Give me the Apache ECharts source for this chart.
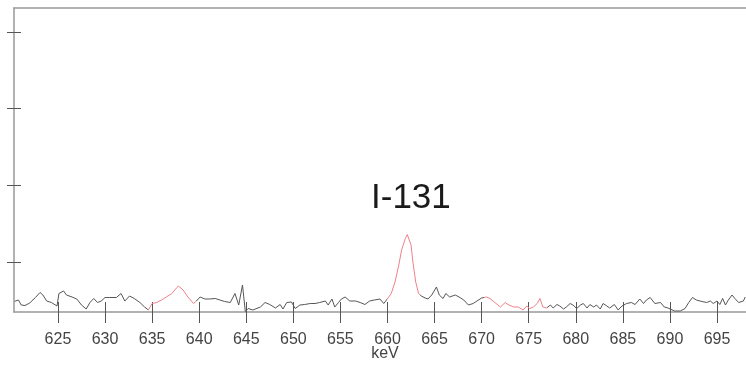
<!DOCTYPE html>
<html>
<head>
<meta charset="utf-8">
<script src="https://cdn.jsdelivr.net/npm/echarts@6/dist/echarts.min.js"></script>
<style>
  html, body { margin: 0; padding: 0; background: #fff; }
  #chart { width: 746px; height: 367px; }
</style>
</head>
<body>
<div id="chart"></div>
<script>
// spectrum readings (keV, counts above baseline)
var energy = [
  620.4, 620.8, 621.1, 621.5, 622.0, 622.6, 623.1, 623.4, 623.8, 624.3,
  624.9, 625.1, 625.6, 625.9, 626.5, 627.0, 627.5, 628.0, 628.4, 628.8,
  629.2, 629.6, 630.0, 630.5, 631.2, 631.7, 632.1, 632.6, 633.1, 633.7,
  634.2, 634.6, 635.0, 635.5, 636.0, 636.5, 637.1, 637.4, 637.8, 638.3,
  638.8, 639.4, 639.7, 640.1, 640.6, 641.1, 641.7, 642.2, 642.7, 643.3,
  643.8, 644.2, 644.6, 644.9, 645.2, 645.7, 645.9, 646.5, 647.0, 647.5,
  648.1, 648.6, 648.9, 649.3, 649.8, 650.2, 650.7, 651.2, 651.8, 652.3,
  652.8, 653.4, 653.7, 654.1, 654.4, 654.8, 655.1, 655.5, 656.0, 656.6,
  657.1, 657.6, 658.1, 658.6, 659.2, 659.6, 659.9, 660.4, 660.8, 661.2,
  661.5, 661.9, 662.1, 662.5, 662.7, 663.0, 663.3, 663.6, 664.0, 664.3,
  664.7, 665.2, 665.5, 665.9, 666.2, 666.6, 667.2, 667.6, 668.1, 668.6,
  669.1, 669.5, 670.0, 670.5, 670.9, 671.4, 672.0, 672.5, 672.8, 673.4,
  673.9, 674.4, 674.8, 675.1, 675.5, 675.9, 676.2, 676.5, 676.9, 677.3,
  677.6, 678.0, 678.3, 678.7, 679.0, 679.4, 679.7, 680.1, 680.5, 680.8,
  681.2, 681.5, 681.9, 682.2, 682.6, 682.9, 683.3, 683.6, 684.1, 684.5,
  684.9, 685.4, 685.9, 686.3, 686.8, 687.2, 687.5, 687.9, 688.4, 689.0,
  689.4, 689.8, 690.0, 690.5, 691.1, 691.6, 692.0, 692.4, 692.8, 693.4,
  693.9, 694.3, 694.6, 695.0, 695.3, 695.6, 695.9, 696.2, 696.6, 696.9,
  697.3, 697.8, 698.0
];
var counts = [
  10.7, 12, 7, 6.5, 9, 14.5, 19.5, 17, 11, 9.5,
  6, 18.5, 21, 17, 15, 13, 7, 3, 9.5, 13.5,
  9.5, 11, 14.5, 14.5, 14.5, 18.5, 11, 16, 13.5, 9.5,
  5, 2, 8.5, 9.5, 12, 15, 18.5, 22, 26, 22,
  15, 8.5, 11, 15, 13, 13, 13.5, 12, 10.5, 9.5,
  18.5, 7, 27, 0.5, 3.5, 2, 1, 5, 9.5, 7.5,
  4, 7.5, 3, 9.5, 10, 3.5, 7, 7.5, 8.5, 8.5,
  9.5, 11, 7, 13, 5, 9.5, 13, 15, 11, 11,
  9.5, 7.5, 11, 12, 13, 8.5, 12, 18.5, 30, 47,
  62, 73.5, 77.5, 67, 50, 30, 18.5, 16, 14, 13,
  17, 25, 17, 13.5, 18.5, 15, 17, 15, 12, 7,
  8.5, 11, 14, 15, 13.5, 9.5, 5, 9.5, 7.5, 5,
  5, 2, 6, 3.5, 5, 8.5, 13.5, 5, 4, 7,
  4, 7.5, 6, 3, 5, 8.5, 7, 3.5, 7, 8.5,
  4, 7.5, 5, 7, 3, 8.5, 6, 4, 7.5, 2,
  6, 8.5, 9.5, 7.5, 13, 8.5, 12, 14.5, 8.5, 9.5,
  5, 4, 2, 1, 1, 3.5, 9.5, 14.5, 12, 10.5,
  9.5, 11, 8.5, 11, 7.5, 13.5, 7, 12, 17, 13.5,
  9.5, 11, 15
];
// regions of interest drawn in red
var roiRanges = [[634.6, 639.7], [659.9, 663.5], [670.2, 676.9]];
var xTicks = [625, 630, 635, 640, 645, 650, 655, 660, 665, 670, 675, 680, 685, 690, 695];
var yTicks = [50, 127, 204, 280];
var peakLabel = 'I-131';

var xMin = 620.33, xMax = 698.08;
var yMin = 0, yMax = 304;

var lineColor = '#555';
var roiColor = '#ee8088';
var axisColor = '#999';
var labelFont = '"Liberation Sans", Arial, sans-serif';

var data = [];
for (var i = 0; i < energy.length; i++) {
  data.push([energy[i], counts[i]]);
}

var pieces = [];
var last = -Infinity;
for (var r = 0; r < roiRanges.length; r++) {
  pieces.push({ gte: last, lt: roiRanges[r][0], color: lineColor });
  pieces.push({ gte: roiRanges[r][0], lt: roiRanges[r][1], color: roiColor });
  last = roiRanges[r][1];
}
pieces.push({ gte: last, color: lineColor });

var myChart = echarts.init(document.getElementById('chart'), null, { renderer: 'canvas' });
var option = {
  animation: false,
  backgroundColor: '#fff',
  grid: { left: 14, right: 0, top: 8, bottom: 55, containLabel: false, outerBoundsMode: 'none' },
  visualMap: {
    show: false,
    type: 'piecewise',
    dimension: 0,
    seriesIndex: 0,
    pieces: pieces
  },
  graphic: [
    {
      type: 'text',
      left: 371,
      top: 181,
      style: {
        text: peakLabel,
        fontSize: 35,
        fontFamily: '"Liberation Sans", Arial, sans-serif',
        fill: '#1a1a1a'
      }
    }
  ],
  xAxis: [
    {
      type: 'value',
      min: xMin,
      max: xMax,
      position: 'bottom',
      axisLine: { show: true, lineStyle: { color: axisColor, width: 1.5 } },
      axisTick: { show: true, customValues: xTicks, length: 11, lineStyle: { color: '#555' } },
      axisLabel: {
        customValues: xTicks,
        margin: 20,
        fontSize: 16,
        fontFamily: labelFont,
        color: '#444'
      },
      splitLine: { show: false },
      name: 'keV',
      nameLocation: 'middle',
      nameGap: 34,
      nameMoveOverlap: false,
      nameTextStyle: { fontSize: 16, fontFamily: labelFont, color: '#444', padding: [0, 0, 0, 10] }
    },
    {
      type: 'value',
      min: xMin,
      max: xMax,
      position: 'bottom',
      axisLine: { show: false },
      axisTick: { show: true, inside: true, customValues: xTicks, length: 10, lineStyle: { color: '#555' } },
      axisLabel: { show: false },
      splitLine: { show: false }
    },
    {
      type: 'value',
      min: xMin,
      max: xMax,
      position: 'top',
      axisLine: { show: true, lineStyle: { color: axisColor, width: 1.5 } },
      axisTick: { show: false },
      axisLabel: { show: false },
      splitLine: { show: false }
    }
  ],
  yAxis: [
    {
      type: 'value',
      min: yMin,
      max: yMax,
      position: 'left',
      axisLine: { show: true, lineStyle: { color: axisColor, width: 1.5 } },
      axisTick: { show: true, customValues: yTicks, length: 7, lineStyle: { color: '#555' } },
      axisLabel: { show: false },
      splitLine: { show: false }
    },
    {
      type: 'value',
      min: yMin,
      max: yMax,
      position: 'left',
      axisLine: { show: false },
      axisTick: { show: true, inside: true, customValues: yTicks, length: 7, lineStyle: { color: '#555' } },
      axisLabel: { show: false },
      splitLine: { show: false }
    }
  ],
  series: [
    {
      type: 'line',
      xAxisIndex: 0,
      yAxisIndex: 0,
      data: data,
      showSymbol: false,
      lineStyle: { width: 1 },
      z: 1
    }
  ]
};
myChart.setOption(option);
</script>
</body>
</html>
